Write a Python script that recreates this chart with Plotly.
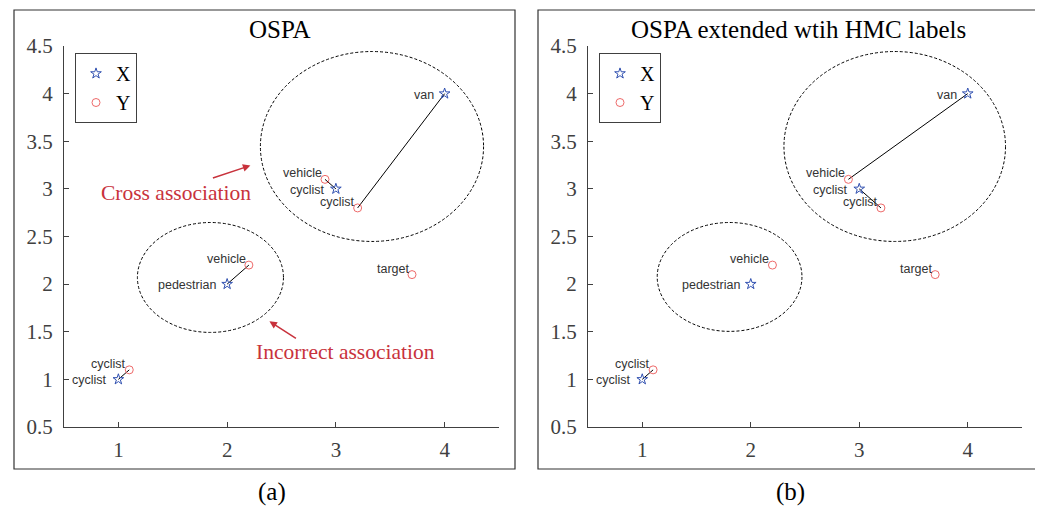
import plotly.graph_objects as go

# ---- data ----
X_x = [1, 2, 3, 4]
X_y = [1, 2, 3, 4]
X_labels = ["cyclist", "pedestrian", "cyclist", "van"]

Y_x = [1.1, 2.2, 2.9, 3.2, 3.7]
Y_y = [1.1, 2.2, 3.1, 2.8, 2.1]
Y_labels = ["cyclist", "vehicle", "vehicle", "cyclist", "target"]

# associations (index in X, index in Y)
assoc_a = [(0, 0), (1, 1), (2, 2), (3, 3)]
assoc_b = [(0, 0), (2, 3), (3, 2)]

titles = ["OSPA", "OSPA extended wtih HMC labels"]
panel_tags = ["(a)", "(b)"]
ticks = [0.5, 1, 1.5, 2, 2.5, 3, 3.5, 4, 4.5]
xticks = [1, 2, 3, 4]

# ellipses (x0, x1, y0, y1) per panel
ellipses_a = [(2.306, 4.358, 2.448, 4.442), (1.175, 2.518, 1.493, 2.647)]
ellipses_b = [(2.306, 4.348, 2.448, 4.442), (1.138, 2.472, 1.504, 2.647)]

W, H = 1043, 508
OFF = 8  # page body margin
SERIF = "Liberation Serif"
SANS = "Liberation Sans"
BLUE = "#3050B0"
RED = "#EE6A6A"
AXC = "#404040"


def px(v):
    return (v - OFF) / W


def py(v):
    return 1 - (v - OFF) / H


fig = go.Figure()

panels = [
    dict(xa="x", ya="y", assoc=assoc_a, ell=ellipses_a, legend="legend"),
    dict(xa="x2", ya="y2", assoc=assoc_b, ell=ellipses_b, legend="legend2"),
]

for p in panels:
    lx, ly = [], []
    for i, j in p["assoc"]:
        lx += [X_x[i], Y_x[j], None]
        ly += [X_y[i], Y_y[j], None]
    fig.add_trace(go.Scatter(x=lx, y=ly, mode="lines", line=dict(color="black", width=1),
                             showlegend=False, xaxis=p["xa"], yaxis=p["ya"], hoverinfo="skip"))
    fig.add_trace(go.Scatter(x=X_x, y=X_y, mode="markers", name="X",
                             marker=dict(symbol="star-open", size=8, color=BLUE, line=dict(width=1, color=BLUE)),
                             xaxis=p["xa"], yaxis=p["ya"], legend=p["legend"]))
    fig.add_trace(go.Scatter(x=Y_x, y=Y_y, mode="markers", name="Y",
                             marker=dict(symbol="circle-open", size=8, color=RED, line=dict(width=1, color=RED)),
                             xaxis=p["xa"], yaxis=p["ya"], legend=p["legend"]))
    for k in range(len(X_x)):
        fig.add_annotation(x=X_x[k], y=X_y[k], xref=p["xa"], yref=p["ya"], text=X_labels[k],
                           showarrow=False, xanchor="right", yanchor="middle", xshift=-9, yshift=-1,
                           font=dict(family=SANS, size=12.5, color="#333333"))
    for k in range(len(Y_x)):
        fig.add_annotation(x=Y_x[k], y=Y_y[k], xref=p["xa"], yref=p["ya"], text=Y_labels[k],
                           showarrow=False, xanchor="right", yanchor="middle", xshift=-1, yshift=6,
                           font=dict(family=SANS, size=12.5, color="#333333"))
    for (x0, x1, y0, y1) in p["ell"]:
        fig.add_shape(type="circle", xref=p["xa"], yref=p["ya"], x0=x0, x1=x1, y0=y0, y1=y1,
                      line=dict(color="black", width=1, dash="3px,2px"))

# red annotations on panel (a)
RED2 = "#C8323C"
fig.add_annotation(x=2.214, y=3.245, xref="x", yref="y", text="", showarrow=True,
                   ax=-39, ay=13, arrowhead=2, arrowsize=1, arrowwidth=1.5, arrowcolor=RED2)
fig.add_annotation(x=2.389, y=1.609, xref="x", yref="y", text="", showarrow=True,
                   ax=28, ay=18, arrowhead=2, arrowsize=1, arrowwidth=1.5, arrowcolor=RED2)
fig.add_annotation(x=1.534, y=2.952, xref="x", yref="y", text="Cross association", showarrow=False,
                   xanchor="center", yanchor="middle",
                   font=dict(family=SERIF, size=21.5, color=RED2))
fig.add_annotation(x=3.088, y=1.283, xref="x", yref="y", text="Incorrect association", showarrow=False,
                   xanchor="center", yanchor="middle",
                   font=dict(family=SERIF, size=21.5, color=RED2))

# domains in pixels
yd = [py(427), py(46)]
xd1 = [px(64), px(499)]
xd2 = [px(588), px(1022)]

axis_common = dict(range=[0.5, 4.5], showgrid=False, zeroline=False, showline=True, linecolor=AXC,
                   linewidth=1, ticks="inside", ticklen=5, tickcolor=AXC, fixedrange=True,
                   automargin=False,
                   tickfont=dict(family=SERIF, size=21, color=AXC))

legend_common = dict(xanchor="left", yanchor="top", bordercolor=AXC, borderwidth=1,
                     bgcolor="white", font=dict(family=SERIF, size=20, color="black"),
                     tracegroupgap=0, itemwidth=30)

fig.update_layout(
    width=W, height=H, margin=dict(l=0, r=0, t=0, b=0, pad=0), autosize=False,
    plot_bgcolor="white", paper_bgcolor="white", showlegend=True,
    xaxis=dict(domain=xd1, anchor="y", tickvals=xticks, ticklabelstandoff=4, **axis_common),
    yaxis=dict(domain=yd, anchor="x", tickvals=ticks, ticklabelstandoff=6, **axis_common),
    xaxis2=dict(domain=xd2, anchor="y2", tickvals=xticks, ticklabelstandoff=4, **axis_common),
    yaxis2=dict(domain=yd, anchor="x2", tickvals=ticks, ticklabelstandoff=6, **axis_common),
    legend=dict(x=px(75), y=py(53), **legend_common),
    legend2=dict(x=px(599), y=py(53), **legend_common),
)

# panel borders
for (x0, x1) in [(14, 515), (538, 1038)]:
    fig.add_shape(type="rect", xref="paper", yref="paper", x0=px(x0), x1=px(x1),
                  y0=py(469), y1=py(10), line=dict(color="#333333", width=1.2))

# titles and tags
for cx, t in zip([280, 798], titles):
    fig.add_annotation(x=px(cx), y=py(29), xref="paper", yref="paper", text=t, showarrow=False,
                       xanchor="center", yanchor="middle",
                       font=dict(family=SERIF, size=25, color="black"))
for cx, t in zip([272, 790], panel_tags):
    fig.add_annotation(x=px(cx), y=py(492), xref="paper", yref="paper", text=t, showarrow=False,
                       xanchor="center", yanchor="middle",
                       font=dict(family=SERIF, size=25, color="black"))

fig.write_html("out.html")
